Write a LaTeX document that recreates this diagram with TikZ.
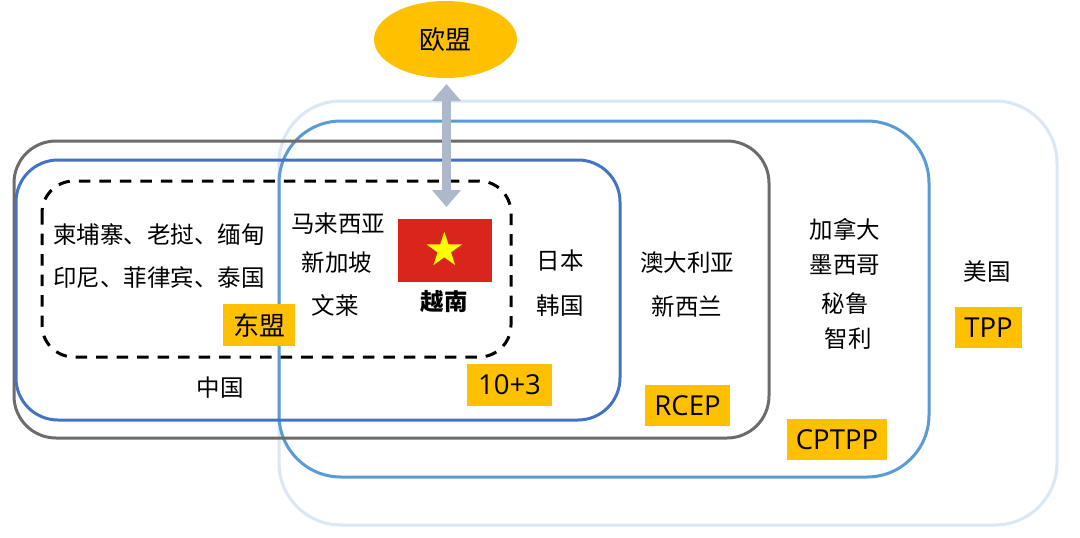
\documentclass[tikz,border=0pt]{standalone}
\usepackage{fontspec}
\setmainfont{Open Sans}
\newfontfamily\cjk{Noto Sans CJK SC}
\usetikzlibrary{shapes.geometric,arrows.meta}
\definecolor{gold}{HTML}{FFC000}
\definecolor{tppc}{HTML}{DAE7F4}
\definecolor{cpc}{HTML}{5B9BD5}
\definecolor{rcc}{HTML}{6E6B6B}
\definecolor{plusc}{HTML}{4472C4}
\definecolor{arr}{HTML}{ADB9CA}
\definecolor{flagr}{HTML}{DA251D}
\definecolor{flagy}{HTML}{FFFF00}
\tikzset{
  x=1pt,y=-1pt,
  lab/.style={font=\cjk\fontsize{23.5}{26}\selectfont,text=black,inner sep=0pt},
  tag/.style={fill=gold,font=\fontsize{27.5}{30}\selectfont,text=black,inner sep=0pt,anchor=center},
  reg/.style={draw,line width=3pt,fill=none}
}
\begin{document}
\begin{tikzpicture}
\useasboundingbox (0,0) rectangle (1080,538);
\fill[white] (0,0) rectangle (1080,538);
\draw[reg,tppc,rounded corners=62] (279,101) rectangle (1057,525);
\draw[reg,cpc,rounded corners=62] (279,121) rectangle (929,477);
\draw[reg,rcc,rounded corners=42] (14,141) rectangle (769,438);
\draw[reg,plusc,rounded corners=42] (16,160) rectangle (620,420);
\draw[black,line width=3pt,dash pattern=on 11.5pt off 9pt,rounded corners=32] (42,181) rectangle (511,357);
\node[ellipse,fill=gold,minimum width=143,minimum height=77,inner sep=0pt,font=\cjk\fontsize{26}{30}\selectfont] (eu) at (445.5,39.5) {欧盟};
\node[fill=flagr,minimum width=94,minimum height=63,inner sep=0pt] (vn) at (445,250.5) {};
\node[star,star points=5,star point ratio=2.618,fill=flagy,minimum size=37,inner sep=0pt] at (444.3,250.2) {};
\coordinate (a1) at (446.5,84);
\coordinate (a2) at (446.5,207);
\draw[arr,line width=8.3pt,{Triangle[length=17pt,width=28pt]}-{Triangle[length=17pt,width=28pt]}] (a1) -- (a2);
\node[lab] (l1) at (159,235) {柬埔寨、老挝、缅甸};
\node[lab] (l2) at (159,278) {印尼、菲律宾、泰国};
\node[lab] (l3) at (338,224) {马来西亚};
\node[lab] (l4) at (337,263) {新加坡};
\node[lab] (l5) at (335,305) {文莱};
\node[lab,font=\cjk\bfseries\fontsize{23.5}{26}\selectfont] (l6) at (444,302) {越南};
\node[lab] (l7) at (560,261) {日本};
\node[lab] (l8) at (560,306) {韩国};
\node[lab] (l9) at (687,263) {澳大利亚};
\node[lab] (l10) at (687,306) {新西兰};
\node[lab] (l11) at (845,229) {加拿大};
\node[lab] (l12) at (845,265) {墨西哥};
\node[lab] (l13) at (845,304) {秘鲁};
\node[lab] (l14) at (848,339) {智利};
\node[lab] (l15) at (987,272) {美国};
\node[lab] (l16) at (220,388) {中国};
\node[tag,minimum width=72,minimum height=42,font=\cjk\fontsize{26}{30}\selectfont] (t1) at (259,325) {东盟};
\node[tag,minimum width=85,minimum height=42] (t2) at (509.5,385) {10+3};
\node[tag,minimum width=85,minimum height=41] (t3) at (687.5,405.5) {RCEP};
\node[tag,minimum width=100,minimum height=41] (t4) at (837,439.5) {CPTPP};
\node[tag,minimum width=67,minimum height=41] (t5) at (988.5,327.5) {TPP};
\end{tikzpicture}
\end{document}
